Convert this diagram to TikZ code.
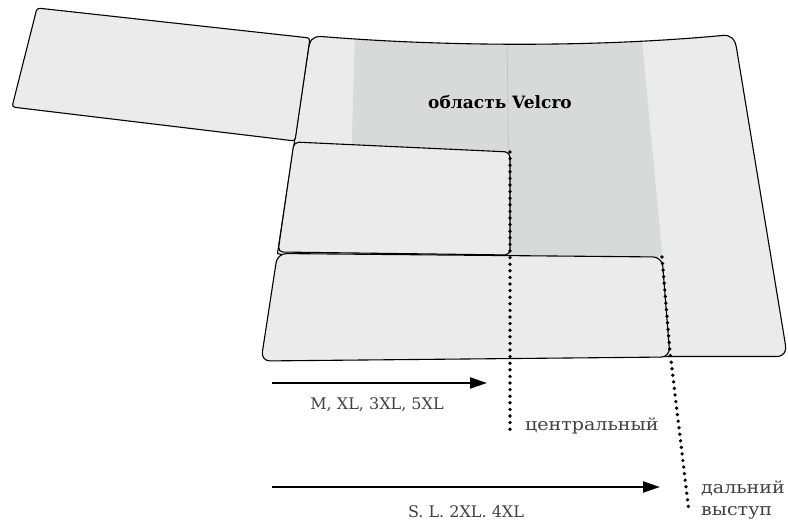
\documentclass[tikz,border=0pt]{standalone}
\usepackage{fontspec}
\setmainfont{DejaVu Serif}
\newfontfamily\wideserif[FakeStretch=1.12]{DejaVu Serif}
\usetikzlibrary{arrows.meta}

\definecolor{panelFill}{HTML}{EBEBEB}
\definecolor{velcroFill}{HTML}{D8DAD9}
\definecolor{seamGray}{HTML}{C4C6C5}
\definecolor{labelGray}{HTML}{404040}

%% outline of the main body (its lower left part hides under the bottom panel)
\newcommand{\bodyPath}{
  (308,52) .. controls (309.5,40) and (312,36.5) .. (321,36.5)
  .. controls (450,47) and (600,47) .. (722,35.5)
  .. controls (731,34.5) and (735,39) .. (736.5,48)
  -- (785,342)
  .. controls (787,352) and (784,356.5) .. (776,356.5)
  -- (660,356.5)
  -- (277.5,253.5)
  -- cycle}

\begin{document}
\begin{tikzpicture}
[x=1pt,y=-1pt,
  panelDecorate/.style={draw=black,line width=1.1pt,fill=panelFill,line join=round},
  dotDecorate/.style={line width=3.7pt,line cap=round,dash pattern=on 0pt off 6.6pt},
  arrowDecorate/.style={line width=2pt,-{Triangle[length=17pt,width=11pt]}},
  labelDecorate/.style={text=labelGray,font=\fontsize{16}{22}\selectfont,inner sep=0pt},
  cyrDecorate/.style={labelDecorate,font=\fontsize{17}{22}\selectfont\wideserif}]
\useasboundingbox (0,0) rectangle (788,521);
%% corner points
\foreach \ptname/\x/\y in {
  flapTL/37/8, flapTR/310/38, flapBR/295/141, flapBL/12/107,
  midTL/294/142, midTR/510/152, midBR/510/255, midBL/278/252,
  botTL/277.5/253.5, botTR/662/257, botBR/670/357, botBL/261/361,
  farBend/670/352, cenEnd/510/432, farEnd/689/512,
  arrAStart/272/383, arrAEnd/487/383, arrBStart/272/487, arrBEnd/660/487}
{
  \coordinate (\ptname) at (\x,\y);
}
%% main body and velcro zone
\path[fill=panelFill] \bodyPath;
\begin{scope}
  \clip \bodyPath;
  \fill[velcroFill] (355,30) -- (641,30) -- (662.5,257) -- (348.5,257) -- cycle;
  \draw[seamGray,line width=0.8pt] (507,30) -- (508.5,152);
\end{scope}
\draw[line width=1.1pt,line join=round] \bodyPath;
%% panels
\draw[panelDecorate,rounded corners=3pt] (flapTL) -- (flapTR) -- (flapBR) -- (flapBL) -- cycle;
\draw[panelDecorate,rounded corners=5pt] (midTL) -- (midTR) -- (midBR) -- (midBL) -- cycle;
\draw[panelDecorate,rounded corners=9pt] (botTL) -- (botTR) -- (botBR) -- (botBL) -- cycle;
%% offset lines
\draw[dotDecorate] (midTR) -- (cenEnd);
\draw[dotDecorate] (botTR) -- (farBend) -- (farEnd);
%% size arrows
\draw[arrowDecorate] (arrAStart) -- (arrAEnd);
\draw[arrowDecorate] (arrBStart) -- (arrBEnd);
%% labels
\node (velcroLabel) at (500,102) [font=\fontsize{17}{20}\selectfont\bfseries,inner sep=0pt] {область Velcro};
\node (sizesA) at (377,405) [labelDecorate] {M, XL, 3XL, 5XL};
\node (sizesB) at (466,512) [labelDecorate] {S. L. 2XL. 4XL};
\node (centralLabel) at (525,426) [cyrDecorate,anchor=west] {центральный};
\node (farLabel) at (701,500) [cyrDecorate,anchor=west,align=left] {дальний\\выступ};
\end{tikzpicture}
\end{document}
